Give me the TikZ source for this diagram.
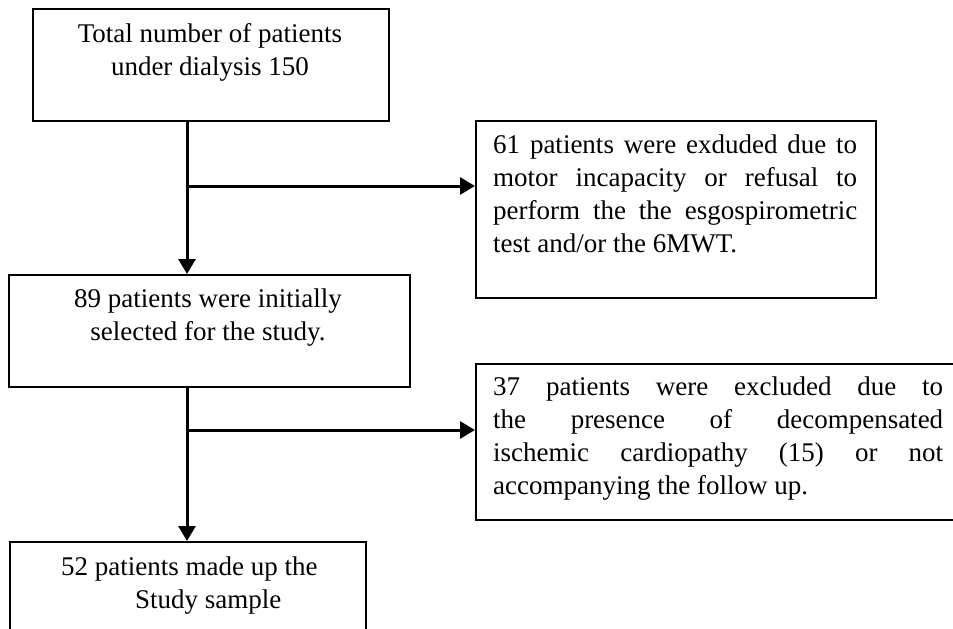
\documentclass[tikz,border=0pt]{standalone}
\usepackage{fontspec}
\setmainfont{Liberation Serif}
\usetikzlibrary{arrows.meta}
\begin{document}
\begin{tikzpicture}[x=1pt,y=-1pt,
 box/.style={draw=black,line width=1.6pt,rectangle,inner sep=0pt,anchor=north west},
 txt/.style={inner sep=0pt,font=\fontsize{27}{33}\selectfont},
 flow/.style={line width=3pt,-{Triangle[length=15pt,width=17pt]}}]
\clip (0,0) rectangle (953,629);
\fill[white] (0,0) rectangle (953,629);
% boxes
\node[box,minimum width=356pt,minimum height=112pt] (b1) at (32,8) {};
\node[box,minimum width=400pt,minimum height=177pt] (b3) at (475,120) {};
\node[box,minimum width=401pt,minimum height=112pt] (b2) at (8,274) {};
\node[box,minimum width=520pt,minimum height=156pt] (b4) at (475,363) {};
\node[box,minimum width=356pt,minimum height=130pt] (b5) at (9,541) {};
% texts
\node[txt,anchor=north,align=center] (t1) at (210,23) {Total number of patients\\under dialysis 150};
\node[txt,anchor=north west,text width=364pt,align=justify] (t3) at (493,135)
 {61 patients were exduded due to\linebreak motor incapacity or refusal to\linebreak perform the the esgospirometric\linebreak test and/or the 6MWT.};
\node[txt,anchor=north,align=center] (t2) at (208,289) {89 patients were initially\\selected for the study.};
\node[txt,anchor=north west,text width=450pt,align=justify] (t4) at (493,377)
 {37 patients were excluded due to\linebreak the presence of decompensated\linebreak ischemic cardiopathy (15) or not\linebreak accompanying the follow up.};
\node[txt,anchor=north west,align=left] (t5) at (61,557) {52 patients made up the\\\hspace*{74pt}Study sample};
% connectors
\coordinate (j1) at (187,186);
\coordinate (j2) at (187,430);
\draw[flow] (b1.south -| j1) -- (b2.north -| j1);
\draw[flow] (j1) -- (j1 -| b3.west);
\draw[flow] (b2.south -| j2) -- (b5.north -| j2);
\draw[flow] (j2) -- (j2 -| b4.west);
\end{tikzpicture}
\end{document}
